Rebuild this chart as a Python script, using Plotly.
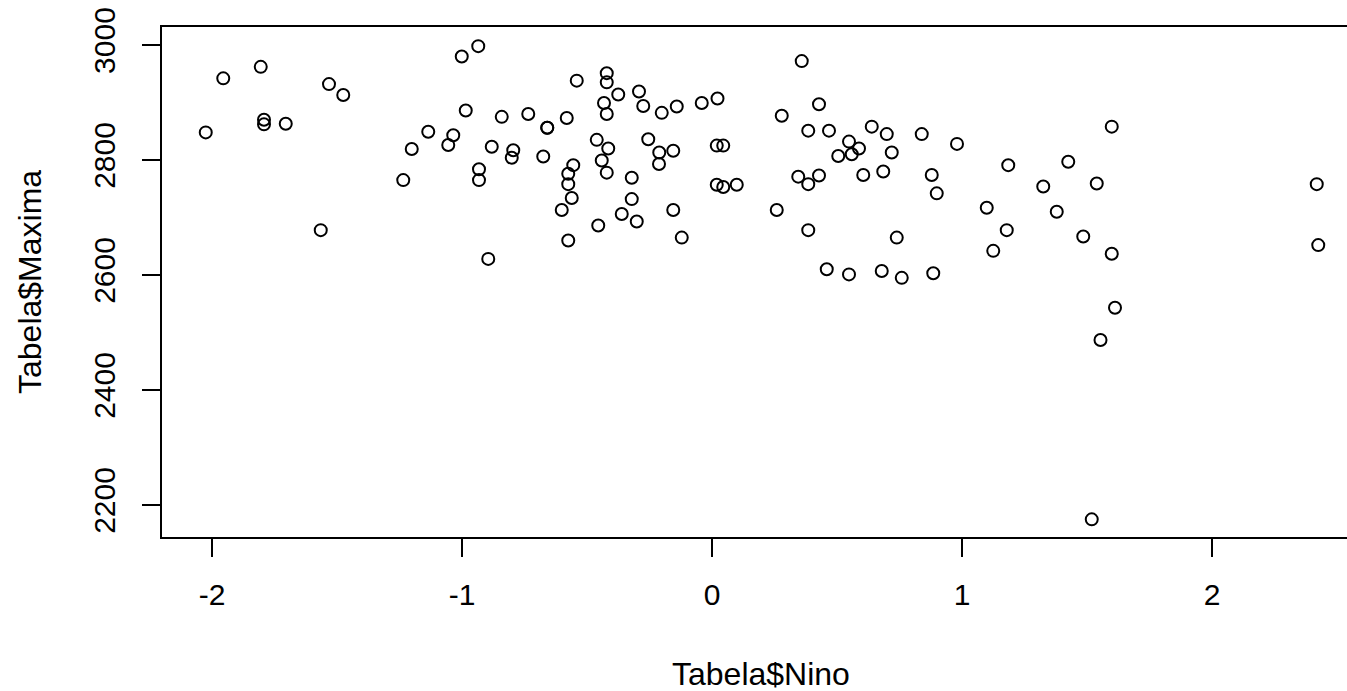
import plotly.graph_objects as go

nino = [-2.025, -1.955, -1.805, -1.792, -1.792, -1.705, -1.532, -1.475, -1.565, -1.235,
        -1.201, -1.135, -1.055, -1.035, -1.001, -0.985, -0.935, -0.541, -0.421, -0.421,
        -0.375, -0.292, -0.275, -0.201, -0.141, -0.041, 0.022, -0.841, -0.735, -0.659,
        -0.659, -0.581, -0.432, -0.421, -0.881, -0.795, -0.801, -0.675, -0.461, -0.415,
        -0.255, -0.211, -0.155, -0.212, 0.019, 0.045, -0.932, -0.932, -0.555, -0.575,
        -0.575, -0.441, -0.421, -0.321, -0.561, -0.601, -0.321, -0.361, -0.301, -0.455,
        -0.155, -0.575, -0.121, -0.895, 0.019, 0.045, 0.099, 0.359, 0.428, 0.279,
        0.385, 0.468, 0.639, 0.699, 0.839, 0.980, 0.548, 0.588, 0.559, 0.505,
        0.719, 0.345, 0.385, 0.428, 0.605, 0.685, 0.879, 0.899, 0.259, 0.385,
        0.739, 0.459, 0.548, 0.679, 0.759, 0.885, 1.599, 1.185, 1.425, 1.325,
        1.539, 1.099, 1.379, 1.179, 1.485, 1.125, 1.599, 2.419, 2.425, 1.612,
        1.554, 1.519]

maxima = [2848, 2942, 2962, 2870, 2862, 2863, 2932, 2913, 2678, 2765,
          2819, 2849, 2826, 2843, 2980, 2886, 2998, 2938, 2951, 2935,
          2914, 2919, 2894, 2882, 2893, 2899, 2907, 2875, 2880, 2856,
          2856, 2873, 2899, 2880, 2823, 2817, 2804, 2806, 2835, 2820,
          2836, 2813, 2816, 2793, 2825, 2825, 2784, 2765, 2791, 2776,
          2758, 2799, 2778, 2769, 2734, 2713, 2732, 2706, 2693, 2686,
          2713, 2660, 2665, 2628, 2757, 2753, 2757, 2972, 2897, 2877,
          2851, 2851, 2858, 2845, 2845, 2828, 2832, 2820, 2810, 2807,
          2813, 2771, 2758, 2773, 2774, 2780, 2774, 2742, 2713, 2678,
          2665, 2610, 2601, 2607, 2595, 2603, 2858, 2791, 2797, 2754,
          2759, 2717, 2710, 2678, 2667, 2642, 2637, 2758, 2652, 2543,
          2487, 2175]

x_ticks = [-2, -1, 0, 1, 2]
x_tick_labels = ["-2", "-1", "0", "1", "2"]
y_ticks = [2200, 2400, 2600, 2800, 3000]
y_tick_labels = ["2200", "2400", "2600", "2800", "3000"]

FONT = "Arial, Liberation Sans, sans-serif"

fig = go.Figure()
fig.add_trace(go.Scatter(
    x=nino, y=maxima, mode="markers",
    marker=dict(symbol="circle-open", size=12, color="black",
                line=dict(color="black", width=2)),
    hoverinfo="x+y", showlegend=False,
))

fig.update_layout(
    width=1347, height=691,
    margin=dict(l=162, r=0, t=27, b=154, pad=0),
    paper_bgcolor="white", plot_bgcolor="white",
    font=dict(family=FONT, size=30, color="black"),
    xaxis=dict(
        range=[-2.2, 2.54], tickmode="array", tickvals=x_ticks, ticktext=x_tick_labels,
        ticks="outside", ticklen=18, tickwidth=1.5, tickcolor="black",
        showline=True, linecolor="black", linewidth=2, mirror=True,
        showgrid=False, zeroline=False, ticklabelstandoff=12,
        tickfont=dict(family=FONT, size=30, color="black"),
    ),
    yaxis=dict(
        range=[2144.3, 3031.3], tickmode="array", tickvals=y_ticks, ticktext=y_tick_labels,
        ticks="outside", ticklen=18, tickwidth=1.5, tickcolor="black",
        showline=True, linecolor="black", linewidth=2, mirror=False,
        showgrid=False, zeroline=False, tickangle=-90, ticklabelstandoff=15,
        tickfont=dict(family=FONT, size=30, color="black"),
    ),
    annotations=[
        dict(text="Tabela$Nino", xref="x", yref="paper", x=0.196, y=-0.268,
             xanchor="center", yanchor="middle", showarrow=False,
             font=dict(family=FONT, size=32, color="black")),
        dict(text="Tabela$Maxima", xref="paper", yref="paper", x=(30 - 162) / 1185, y=0.50,
             xanchor="center", yanchor="middle", textangle=-90, showarrow=False,
             font=dict(family=FONT, size=32, color="black")),
    ],
)

fig.write_html(
    "out.html",
    config={"displayModeBar": False},
    post_script="document.body.style.margin='0';document.body.style.padding='0';"
                "document.documentElement.style.overflow='hidden';",
)
